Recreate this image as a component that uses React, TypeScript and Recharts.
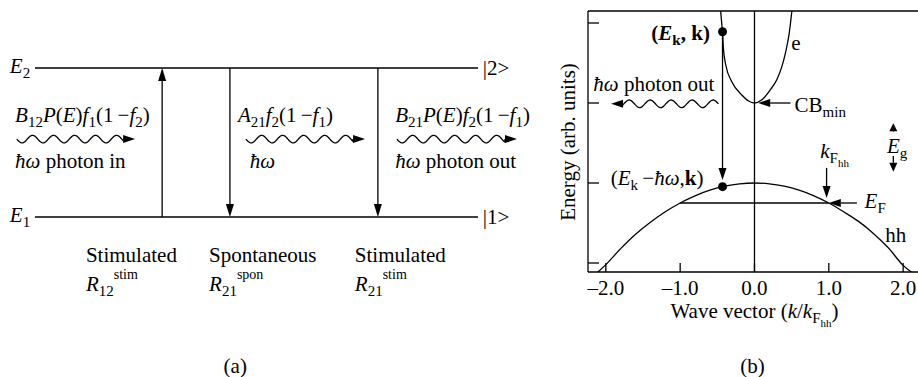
import { LineChart, Line, XAxis, YAxis, ReferenceLine, ReferenceDot } from 'recharts'

const SERIF = '"Liberation Serif", "Times New Roman", serif'
const FS = 21
const INK = '#000'

// text runs: s = 0 normal, 1 subscript, 2 sub-subscript, -1 superscript
type Seg = { t: string; s?: number; i?: boolean; b?: boolean }
const r = (t: string, s = 0): Seg => ({ t, s })
const it = (t: string, s = 0): Seg => ({ t, s, i: true })
const bd = (t: string, s = 0, i = false): Seg => ({ t, s, b: true, i })

// ---- panel (a): two-level system ----
const levelSpan = [0, 10]
const levels = [
  { key: 'E2', value: 1, label: [it('E'), r('2', 1)], ket: '|2>' },
  { key: 'E1', value: 0, label: [it('E'), r('1', 1)], ket: '|1>' },
]
// transition arrows: position along the levels, from -> to level
const transitions = [
  { x: 2.87, from: 0, to: 1 },
  { x: 4.4, from: 1, to: 0 },
  { x: 7.74, from: 1, to: 0 },
]
const rateLabels = [
  [it('B'), r('12', 1), it('P'), r('('), it('E'), r(')'), it('f'), r('1', 1), r('(1\u2009\u2212'), it('f'), r('2', 1), r(')')],
  [it('A'), r('21', 1), it('f'), r('2', 1), r('(1\u2009\u2212'), it('f'), r('1', 1), r(')')],
  [it('B'), r('21', 1), it('P'), r('('), it('E'), r(')'), it('f'), r('2', 1), r('(1\u2009\u2212'), it('f'), r('1', 1), r(')')],
]
const photonLabels = [
  [it('\u0127\u03c9'), r(' photon in')],
  [it('\u0127\u03c9')],
  [it('\u0127\u03c9'), r(' photon out')],
]
const processNames = ['Stimulated', 'Spontaneous', 'Stimulated']
const processRates = [
  [it('R'), r('12', 1), r('stim', -1)],
  [it('R'), r('21', 1), r('spon', -1)],
  [it('R'), r('21', 1), r('stim', -1)],
]

// ---- panel (b): band diagram, energy vs k/kF ----
const kTicks = [-2, -1, 0, 1, 2]
const eTicks = [0, 1, 2, 3]
const kDomain = [-2.24, 2.2]
const eDomain = [-0.1125, 3.15]

const eBand = [
  { k: -0.455, E: 3.15 },
  { k: -0.445, E: 3.04 },
  { k: -0.431, E: 2.884 },
  { k: -0.418, E: 2.68 },
  { k: -0.386, E: 2.475 },
  { k: -0.305, E: 2.266 },
  { k: -0.171, E: 2.1 },
  { k: -0.08, E: 2.025 },
  { k: 0, E: 2.0 },
  { k: 0.1, E: 2.04 },
  { k: 0.211, E: 2.163 },
  { k: 0.3, E: 2.29 },
  { k: 0.368, E: 2.454 },
  { k: 0.42, E: 2.64 },
  { k: 0.467, E: 2.87 },
  { k: 0.503, E: 3.15 },
]
const hhBand = [
  { k: -2.24, E: -0.22 },
  { k: -2.0, E: -0.02 },
  { k: -1.8, E: 0.18 },
  { k: -1.6, E: 0.36 },
  { k: -1.4, E: 0.51 },
  { k: -1.2, E: 0.64 },
  { k: -1.0, E: 0.75 },
  { k: -0.8, E: 0.84 },
  { k: -0.6, E: 0.91 },
  { k: -0.4, E: 0.96 },
  { k: -0.2, E: 0.99 },
  { k: 0, E: 1.0 },
  { k: 0.2, E: 0.99 },
  { k: 0.4, E: 0.96 },
  { k: 0.6, E: 0.91 },
  { k: 0.8, E: 0.84 },
  { k: 1.0, E: 0.75 },
  { k: 1.2, E: 0.64 },
  { k: 1.4, E: 0.52 },
  { k: 1.6, E: 0.37 },
  { k: 1.8, E: 0.19 },
  { k: 2.0, E: -0.03 },
  { k: 2.2, E: -0.17 },
]
const upperState = { k: -0.43, E: 2.89 }
const lowerState = { k: -0.43, E: 0.954 }
const fermi = { k: 1.0, E: 0.75 }
const cbMin = { k: 0, E: 2.0 }

const SHIFT: Record<number, number> = { 0: 0, 1: 5, 2: 9, [-1]: -12 }
const SIZE: Record<number, number> = { 0: FS, 1: 15, 2: 11, [-1]: 14 }

const MathText = ({ x, y, segs, anchor = 'start', rotate = false }: any) => {
  let cur = 0
  return (
    <text
      x={x}
      y={y}
      textAnchor={anchor}
      fontFamily={SERIF}
      fontSize={FS}
      fill={INK}
      style={{ whiteSpace: 'pre' }}
      transform={rotate ? `rotate(-90 ${x} ${y})` : undefined}
    >
      {segs.map((s: Seg, i: number) => {
        const lv = s.s ?? 0
        const dy = SHIFT[lv] - cur
        cur = SHIFT[lv]
        return (
          <tspan
            key={i}
            dy={dy}
            fontSize={SIZE[lv]}
            fontStyle={s.i ? 'italic' : 'normal'}
            fontWeight={s.b ? 'bold' : 'normal'}
          >
            {s.t}
          </tspan>
        )
      })}
    </text>
  )
}

const headPoints = (x1: number, y1: number, x2: number, y2: number, hl: number, hw: number) => {
  const len = Math.hypot(x2 - x1, y2 - y1) || 1
  const ux = (x2 - x1) / len
  const uy = (y2 - y1) / len
  const bx = x2 - ux * hl
  const by = y2 - uy * hl
  return {
    bx,
    by,
    ux,
    uy,
    len,
    pts: `${x2},${y2} ${bx - uy * hw},${by + ux * hw} ${bx + uy * hw},${by - ux * hw}`,
  }
}

const arrowShape = (hl = 12) => (p: any) => {
  const { x1, y1, x2, y2 } = p
  const h = headPoints(x1, y1, x2, y2, hl, 4)
  return (
    <g>
      <line x1={x1} y1={y1} x2={h.bx} y2={h.by} stroke={INK} strokeWidth={1.3} />
      <polygon points={h.pts} fill={INK} />
    </g>
  )
}

// photon: wavy line ending in an arrowhead
const wavyShape = (p: any) => {
  const { x1, y1, x2, y2 } = p
  const h = headPoints(x1, y1, x2, y2, 12, 4)
  const body = h.len - 12
  let d = ''
  for (let s = 0; s <= body; s += 1) {
    const off = 3.8 * Math.sin((2 * Math.PI * s) / 21)
    const px = x1 + h.ux * s - h.uy * off
    const py = y1 + h.uy * s + h.ux * off
    d += `${s === 0 ? 'M' : 'L'}${px.toFixed(1)},${py.toFixed(1)}`
  }
  d += `L${h.bx.toFixed(1)},${h.by.toFixed(1)}`
  return (
    <g>
      <path d={d} fill="none" stroke={INK} strokeWidth={1.3} />
      <polygon points={h.pts} fill={INK} />
    </g>
  )
}

const note = (key: string, x: number, y: number, segs: Seg[], anchor = 'start', rotate = false) => (
  <ReferenceDot
    key={key}
    x={x}
    y={y}
    ifOverflow="visible"
    shape={(p: any) => <MathText x={p.cx} y={p.cy} segs={segs} anchor={anchor} rotate={rotate} />}
  />
)

const arrow = (key: string, a: number[], b: number[], hl = 12) => (
  <ReferenceLine
    key={key}
    segment={[{ x: a[0], y: a[1] }, { x: b[0], y: b[1] }]}
    ifOverflow="visible"
    shape={arrowShape(hl)}
  />
)

const photon = (key: string, a: number[], b: number[]) => (
  <ReferenceLine
    key={key}
    segment={[{ x: a[0], y: a[1] }, { x: b[0], y: b[1] }]}
    ifOverflow="visible"
    shape={wavyShape}
  />
)

const PanelA = () => {
  const rows = levelSpan.map(x => ({ x, E1: levels[1].value, E2: levels[0].value }))
  const rateX = [-0.45, 4.58, 8.13]
  const photonX = [-0.45, 4.85, 8.13]
  const waves = [[-0.41, 2.26], [4.76, 7.45], [8.17, 10.88]]
  const nameX = [1.15, 3.93, 7.22]
  return (
    <LineChart width={560} height={377} data={rows} margin={{ top: 68, right: 82, bottom: 160, left: 35 }}>
      <XAxis type="number" dataKey="x" domain={[0, 10]} hide />
      <YAxis type="number" domain={[0, 1]} hide />
      <Line dataKey="E2" stroke={INK} strokeWidth={1.3} dot={false} activeDot={false} isAnimationActive={false} />
      <Line dataKey="E1" stroke={INK} strokeWidth={1.3} dot={false} activeDot={false} isAnimationActive={false} />
      {levels.map(l => note(`l${l.key}`, -0.11, l.value - 0.034, l.label as Seg[], 'end'))}
      {levels.map(l => note(`k${l.key}`, 10.11, l.value - 0.047, [r(l.ket)]))}
      {transitions.map((t, i) => arrow(`t${i}`, [t.x, t.from], [t.x, t.to], 13))}
      {rateLabels.map((s, i) => note(`r${i}`, rateX[i], 0.638, s))}
      {waves.map((w, i) => photon(`w${i}`, [w[0], 0.523], [w[1], 0.523]))}
      {photonLabels.map((s, i) => note(`p${i}`, photonX[i], 0.329, s))}
      {processNames.map((n, i) => note(`n${i}`, nameX[i], -0.302, [r(n)]))}
      {processRates.map((s, i) => note(`q${i}`, nameX[i], -0.497, s))}
      {note('cap', 4.52, -1.047, [r('(a)')], 'middle')}
    </LineChart>
  )
}

const fmtK = (v: number) => (v < 0 ? '\u2013' + Math.abs(v).toFixed(1) : v.toFixed(1))

const KTick = ({ x, y, payload }: any) => (
  <g>
    <line x1={x} y1={y} x2={x} y2={y - 9} stroke={INK} strokeWidth={1.3} />
    <text x={x} y={y + 23} textAnchor="middle" fontFamily={SERIF} fontSize={FS} fill={INK}>
      {fmtK(payload.value)}
    </text>
  </g>
)

const ETick = ({ x, y }: any) => <line x1={x} y1={y} x2={x + 11} y2={y} stroke={INK} strokeWidth={1.3} />

const PanelB = () => (
  <LineChart width={398} height={377} margin={{ top: 11, right: 0, bottom: 104, left: 67 }}>
    <XAxis
      type="number"
      dataKey="k"
      domain={kDomain}
      ticks={kTicks}
      interval={0}
      allowDataOverflow
      height={1}
      tickSize={0}
      tickMargin={0}
      tickLine={false}
      tick={(p: any) => <KTick {...p} />}
      stroke={INK}
      strokeWidth={1.3}
    />
    <YAxis
      type="number"
      domain={eDomain}
      ticks={eTicks}
      interval={0}
      allowDataOverflow
      width={1}
      tickSize={0}
      tickMargin={0}
      tickLine={false}
      tick={(p: any) => <ETick {...p} />}
      stroke={INK}
      strokeWidth={1.3}
    />
    <ReferenceLine y={eDomain[1]} stroke={INK} strokeWidth={1.3} ifOverflow="visible" />
    <ReferenceLine x={0} stroke={INK} strokeWidth={1.3} />
    <ReferenceLine
      segment={[{ x: -fermi.k, y: fermi.E }, { x: fermi.k, y: fermi.E }]}
      stroke={INK}
      strokeWidth={1.3}
      ifOverflow="visible"
    />
    <Line data={eBand} dataKey="E" type="monotone" stroke={INK} strokeWidth={1.3} dot={false} activeDot={false} isAnimationActive={false} />
    <Line data={hhBand} dataKey="E" type="monotone" stroke={INK} strokeWidth={1.3} dot={false} activeDot={false} isAnimationActive={false} />
    {arrow('trans', [upperState.k, upperState.E], [lowerState.k, 1.0375])}
    {photon('out', [-0.485, 1.99], [-1.93, 1.99])}
    {arrow('cb', [0.485, cbMin.E], [cbMin.k + 0.05, cbMin.E])}
    {arrow('kf', [0.97, 1.1875], [0.97, 0.8125])}
    {arrow('ef', [1.378, fermi.E], [fermi.k, fermi.E])}
    {arrow('egUp', [1.868, 1.64], [1.868, 1.746], 8)}
    {arrow('egDn', [1.868, 1.3375], [1.868, 1.14], 9)}
    <ReferenceDot x={upperState.k} y={upperState.E} r={4.5} fill={INK} stroke="none" ifOverflow="visible" />
    <ReferenceDot x={lowerState.k} y={lowerState.E} r={4.5} fill={INK} stroke="none" ifOverflow="visible" />
    {note('uLab', -0.6, 2.7875, [bd('('), bd('E', 0, true), bd('k', 1), bd(', '), bd('k'), bd(')')], 'end')}
    {note('lLab', -0.687, 0.975, [r('('), it('E'), r('k', 1), r('\u2009\u2212'), it('\u0127\u03c9'), r(','), bd('k'), r(')')], 'end')}
    {note('ph', -2.168, 2.15, [it('\u0127\u03c9'), r(' photon out')])}
    {note('e', 0.494, 2.6625, [r('e')])}
    {note('cbl', 0.539, 1.8875, [r('CB'), r('min', 1)])}
    {note('kfl', 0.885, 1.3125, [it('k'), r('F', 1), r('hh', 2)])}
    {note('egl', 1.782, 1.375, [it('E'), r('g', 1)])}
    {note('efl', 1.481, 0.6875, [it('E'), r('F', 1)])}
    {note('hhl', 1.76, 0.2625, [r('hh')])}
    {note('xl', 0, -0.6875, [r('Wave vector ('), it('k'), r('/'), it('k'), r('F', 1), r('hh', 2), r(')')], 'middle')}
    {note('yl', -2.411, 1.5125, [r('Energy (arb. units)')], 'middle', true)}
    {note('cap', -0.027, -1.375, [r('(b)')], 'middle')}
  </LineChart>
)

export default function App() {
  return (
    <div style={{ position: 'absolute', left: 0, top: 0, width: 918, height: 377, background: '#fff', overflow: 'hidden' }}>
      <div style={{ position: 'absolute', left: 0, top: 0 }}>
        <PanelA />
      </div>
      <div style={{ position: 'absolute', left: 520, top: 0 }}>
        <PanelB />
      </div>
    </div>
  )
}
